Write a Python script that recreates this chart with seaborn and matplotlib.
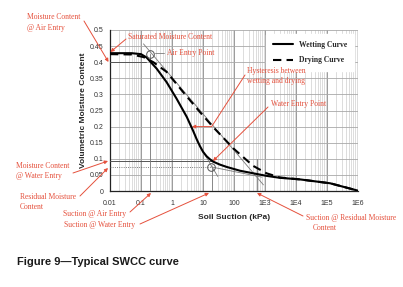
import numpy as np
import pandas as pd
import matplotlib
matplotlib.use("Agg")
import matplotlib.pyplot as plt
import seaborn as sns

# ---- data ----
suction_wet = [0.01, 0.05, 0.1, 0.15, 0.32, 0.67, 1.4, 3.0, 4.9, 6.3, 8, 10, 13, 17, 21.5, 35, 57, 155, 415, 1120, 3000, 13500, 126000, 1e6]
theta_wet = [0.428, 0.428, 0.425, 0.415, 0.38, 0.338, 0.287, 0.23, 0.185, 0.16, 0.139, 0.122, 0.108, 0.098, 0.091, 0.082, 0.075, 0.063, 0.055, 0.047, 0.041, 0.036, 0.024, 0.001]
suction_dry = [0.01, 0.05, 0.12, 0.25, 0.67, 2.3, 8, 21, 96, 415, 1120, 3000, 13500, 126000, 1e6]
theta_dry = [0.425, 0.424, 0.416, 0.40, 0.37, 0.307, 0.245, 0.199, 0.132, 0.078, 0.055, 0.042, 0.036, 0.024, 0.001]
xtick_vals = [1e-2, 1e-1, 1, 10, 100, 1e3, 1e4, 1e5, 1e6]
xtick_labels = ['0.01', '0.1', '1', '10', '100', '1E3', '1E4', '1E5', '1E6']
ytick_vals = [0, 0.05, 0.1, 0.15, 0.2, 0.25, 0.3, 0.35, 0.4, 0.45, 0.5]
ytick_labels = ['0', '0.05', '0.1', '0.15', '0.2', '0.25', '0.3', '0.35', '0.4', '0.45', '0.5']
air_entry = (0.19, 0.426)
water_entry = (18, 0.075)

sns.set_style("white")
plt.rcParams['font.family'] = ['Liberation Sans', 'DejaVu Sans']

W, H = 403, 287
fig = plt.figure(figsize=(W / 100, H / 100), dpi=100)
ax = fig.add_axes([110 / W, 1 - 191 / H, 248 / W, 161 / H])
ax.set_xscale('log')

wet = pd.DataFrame({'suction': suction_wet, 'theta': theta_wet})
dry = pd.DataFrame({'suction': suction_dry, 'theta': theta_dry})
sns.lineplot(data=wet, x='suction', y='theta', ax=ax, color='black', lw=1.5,
             sort=False, label='Wetting Curve', zorder=5)
sns.lineplot(data=dry, x='suction', y='theta', ax=ax, color='black', lw=1.5,
             sort=False, label='Drying Curve', zorder=5)
ax.lines[-1].set_linestyle((0, (4, 2.5)))

ax.set_xlim(1e-2, 1e6)
ax.set_ylim(0, 0.5)
ax.set_xticks(xtick_vals)
ax.set_xticklabels(xtick_labels)
ax.xaxis.set_minor_locator(matplotlib.ticker.LogLocator(base=10, subs=np.arange(2, 10), numticks=20))
ax.xaxis.set_minor_formatter(matplotlib.ticker.NullFormatter())
ax.set_yticks(ytick_vals)
ax.set_yticklabels(ytick_labels)
ax.tick_params(axis='both', which='major', labelsize=5, length=2.5, width=0.6,
               colors='#333333', pad=2, direction='out')
ax.tick_params(axis='x', which='minor', length=0)
ax.tick_params(axis='x', which='major', pad=4)
ax.grid(True, which='major', axis='x', color='#9a9a9a', lw=0.7)
ax.grid(True, which='minor', axis='x', color='#cfcfcf', lw=0.5)
ax.grid(True, which='major', axis='y', color='#a8a8a8', lw=0.6)
for s in ['top', 'right']:
    ax.spines[s].set_visible(False)
for s in ['left', 'bottom']:
    ax.spines[s].set_color('#222222')
    ax.spines[s].set_linewidth(0.9)

ax.set_xlabel('Soil Suction (kPa)', fontsize=6, fontweight='bold', labelpad=5)
ax.set_ylabel('Volumetric Moisture Content', fontsize=6, fontweight='bold', labelpad=2)

# construction lines
g = '#7a7a7a'
ax.plot([0.01, 0.15], [0.4, 0.4], color='#555555', lw=0.7, zorder=3)
ax.plot([0.01, 21], [0.093, 0.093], color='#555555', lw=0.7, zorder=3)
ax.plot([0.01, 18], [0.075, 0.075], color='#555555', lw=0.6, ls=':', zorder=3)
ax.plot([0.2, 0.2], [0, 0.426], color=g, lw=0.6, zorder=3)
ax.plot([19, 19], [0, 0.075], color=g, lw=0.6, zorder=3)
ax.plot([550, 550], [0, 0.1], color=g, lw=0.6, zorder=3)
ax.plot([0.12, 890], [0.457, 0.019], color=g, lw=0.6, zorder=3)
ax.plot([9, 30], [0.13, 0.045], color=g, lw=0.6, zorder=3)
ax.plot([18, 800], [0.075, 0.043], color=g, lw=0.6, zorder=3)
ax.plot(*air_entry, marker='o', ms=5.5, mfc='none', mec='#555555', mew=0.7, zorder=6)
ax.plot(*water_entry, marker='o', ms=5.5, mfc='none', mec='#555555', mew=0.7, zorder=6)

leg = ax.legend(loc='upper right', frameon=True, handlelength=2.6,
                borderpad=0.9, labelspacing=1.0, prop={'family': 'Liberation Serif', 'weight': 'bold', 'size': 5.5})
leg.get_frame().set_edgecolor('white')
leg.get_frame().set_facecolor('white')
leg.get_frame().set_alpha(1)
leg.set_zorder(10)

# annotations
red = '#e5503c'
def fp(x, y):
    return (x / W, 1 - y / H)

tkw = dict(color=red, fontsize=5.5, family='Liberation Serif', transform=fig.transFigure, va='center', ha='left')
akw = dict(arrowstyle='-|>', color=red, lw=0.7, mutation_scale=5, shrinkA=0, shrinkB=0)

def arrow(start, end, data_end=False, style=None):
    kw = dict(akw)
    if style:
        kw['arrowstyle'] = style
    if data_end:
        ax.annotate('', xy=end, xycoords='data', xytext=fp(*start), textcoords='figure fraction',
                    arrowprops=kw, annotation_clip=False)
    else:
        ax.annotate('', xy=fp(*end), xycoords='figure fraction', xytext=fp(*start),
                    textcoords='figure fraction', arrowprops=kw, annotation_clip=False)

fig.text(*fp(27, 17), 'Moisture Content', **tkw)
fig.text(*fp(27, 28), '@ Air Entry', **tkw)
arrow((84, 21), (108.5, 62))

fig.text(*fp(128, 37), 'Saturated Moisture Content', **tkw)
arrow((126, 39), (110.5, 52))

fig.text(*fp(167, 53), 'Air Entry Point', **tkw)
fig.add_artist(matplotlib.lines.Line2D([155 / W, 164 / W], [1 - 53 / H, 1 - 53 / H], color=g, lw=0.6))

fig.text(*fp(247, 71), 'Hysteresis between', **tkw)
fig.text(*fp(247, 81), 'wetting and drying', **tkw)
arrow((245, 75), (19, 0.2), data_end=True, style='-')
ax.annotate('', xy=(4.4, 0.2), xytext=(19, 0.2), arrowprops=akw)

fig.text(*fp(271, 104), 'Water Entry Point', **tkw)
arrow((268, 107), (21, 0.093), data_end=True)

fig.text(*fp(16, 166), 'Moisture Content', **tkw)
fig.text(*fp(16, 176), '@ Water Entry', **tkw)
arrow((73, 173), (108, 161))

fig.text(*fp(20, 197), 'Residual Moisture', **tkw)
fig.text(*fp(20, 207), 'Content', **tkw)
arrow((80, 196), (108, 168))

fig.text(*fp(63, 214), 'Suction @ Air Entry', **tkw)
arrow((130, 212), (151, 193))

fig.text(*fp(64, 225), 'Suction @ Water Entry', **tkw)
arrow((140, 224), (209, 193))

fig.text(*fp(306, 218), 'Suction @ Residual Moisture', **tkw)
fig.text(*fp(313, 228), 'Content', **tkw)
arrow((303, 216), (257, 193))

fig.text(*fp(17, 262), 'Figure 9\u2014Typical SWCC curve', fontsize=8, fontweight='bold',
         color='#1a1a1a', va='center', ha='left', transform=fig.transFigure)

fig.savefig('out.png', dpi=100)
